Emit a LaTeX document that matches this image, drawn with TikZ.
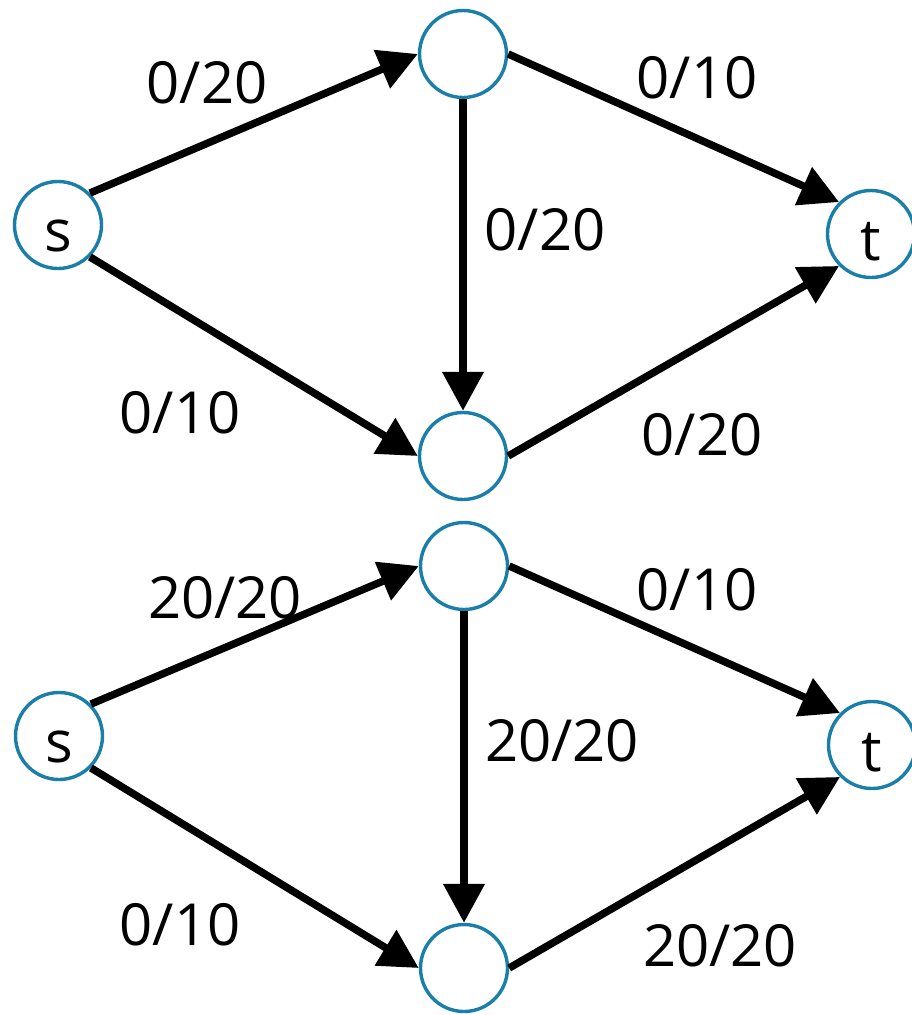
\documentclass[tikz,border=0pt]{standalone}
\usepackage{fontspec}
\setmainfont{Open Sans}
\usetikzlibrary{arrows.meta}
\definecolor{nodeblue}{RGB}{25,126,168}

\tikzset{
  vertex/.style={circle, draw=nodeblue, line width=3.4pt, minimum size=87pt, inner sep=0pt,
                 text height=53pt, text depth=0pt, font=\fontsize{58}{70}\selectfont},
  flow/.style={line width=7.5pt, -{Triangle[length=39pt,width=40pt]}},
  capacity/.style={font=\fontsize{58}{70}\selectfont, inner sep=0pt}
}

\begin{document}
\begin{tikzpicture}[x=1pt,y=-1pt]
\useasboundingbox (0,0) rectangle (911,1015);

% flow network, before
\node[vertex] (s1) at (58,225) {s};
\node[vertex] (a1) at (463,54) {};
\node[vertex] (b1) at (463,456) {};
\node[vertex] (t1) at (871,234) {t};

\draw[flow] (s1.north east) -- (a1.west);
\draw[flow] (s1.south east) -- (b1.west);
\draw[flow] (a1.south) -- (b1.north);
\draw[flow] (a1.east) -- (t1.north west);
\draw[flow] (b1.east) -- (t1.south west);

\node[capacity] (sa1) at (207,83) {0/20};
\node[capacity] (at1) at (697,78) {0/10};
\node[capacity] (ab1) at (545,230) {0/20};
\node[capacity] (sb1) at (180,413) {0/10};
\node[capacity] (bt1) at (702,435) {0/20};

% flow network, after one augmenting path
\node[vertex] (s2) at (59,736) {s};
\node[vertex] (a2) at (464,566) {};
\node[vertex] (b2) at (464,968) {};
\node[vertex] (t2) at (872,745) {t};

\draw[flow] (s2.north east) -- (a2.west);
\draw[flow] (s2.south east) -- (b2.west);
\draw[flow] (a2.south) -- (b2.north);
\draw[flow] (a2.east) -- (t2.north west);
\draw[flow] (b2.east) -- (t2.south west);

\node[capacity] (sa2) at (225,598) {20/20};
\node[capacity] (at2) at (697,590) {0/10};
\node[capacity] (ab2) at (562,741) {20/20};
\node[capacity] (sb2) at (180,925) {0/10};
\node[capacity] (bt2) at (720,946) {20/20};
\end{tikzpicture}
\end{document}
